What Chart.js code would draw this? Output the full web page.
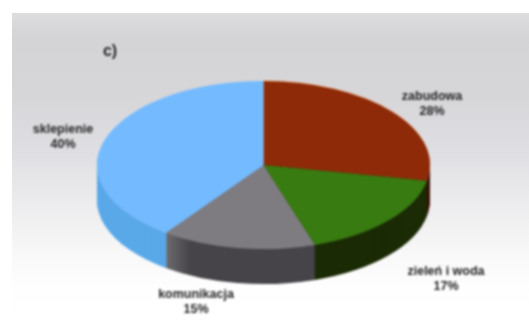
<!DOCTYPE html>
<html>
<head>
<meta charset="utf-8">
<script src="https://cdn.jsdelivr.net/npm/chart.js@4"></script>
<style>
  html, body { margin: 0; padding: 0; background: #fff; overflow: hidden; }
  #wrap { position: relative; width: 529px; height: 320px; }
  /* grey backdrop of the slide, starts a bit inside the window */
  #panel {
    position: absolute; left: 12px; top: 13px; right: 0; bottom: 0;
    background: linear-gradient(#dddddf 0px, #d4d4d7 25px, #d6d6d9 80px, #dfdfe3 140px, #ececee 190px, #f8f8f8 240px, #fefefe 275px, #ffffff 307px);
    filter: blur(0.6px);
  }
  canvas { position: absolute; left: 0; top: 0; filter: blur(0.8px); }
</style>
</head>
<body>
<div id="wrap">
  <div id="panel"></div>
  <canvas id="pie" width="529" height="320"></canvas>
</div>
<script>
const categories = ['zabudowa', 'zieleń i woda', 'komunikacja', 'sklepienie'];
const shares = [28, 17, 15, 40];
const topColors = ['#8e2a08', '#387b10', '#7e7c80', '#74bafe'];
const sideColors = ['#3a1204', '#1b2b05', '#464448', '#5aa8e8'];
const panelLabel = 'c)';

// where the tilted pie ends up on the page
const pieX = 263.5, pieY = 165, radiusX = 166.5, radiusY = 84, depth = 35;
const labelSpots = [[432, 97], [446, 272], [196, 295], [63, 130]];

function tilt(ctx, arc, drop) {
  ctx.translate(pieX, pieY + drop);
  ctx.scale(radiusX / arc.outerRadius, radiusY / arc.outerRadius);
  ctx.translate(-arc.x, -arc.y);
}

function drawLayer(ctx, arc, color, drop) {
  const layer = Object.create(arc);
  layer.options = Object.assign({}, arc.options, { backgroundColor: color, borderWidth: 0 });
  ctx.save();
  tilt(ctx, arc, drop);
  layer.draw(ctx);
  ctx.restore();
}

// grey wall catches some light on its left end
function greyWall(ctx, arc) {
  const toChart = (px) => arc.x + (px - pieX) * arc.outerRadius / radiusX;
  const g = ctx.createLinearGradient(toChart(166), 0, toChart(190), 0);
  g.addColorStop(0, '#6c6b6e');
  g.addColorStop(1, sideColors[2]);
  return g;
}

// Chart.js only knows flat pies, so squash it and stack darker copies below
const tiltedPie = {
  id: 'tiltedPie',
  beforeDatasetsDraw(chart) {
    const ctx = chart.ctx;
    const arcs = chart.getDatasetMeta(0).data;
    for (let d = depth; d >= 1; d--) {
      arcs.forEach((arc, i) => {
        drawLayer(ctx, arc, i === 2 ? greyWall(ctx, arc) : sideColors[i], d);
      });
    }
    // pale rim along the top of the red slice
    drawLayer(ctx, arcs[0], '#f0c4a4', -1);
    ctx.save();
    tilt(ctx, arcs[0], 0);
  },
  afterDatasetsDraw(chart) {
    const ctx = chart.ctx;
    ctx.restore();

    ctx.fillStyle = '#262626';
    ctx.textAlign = 'center';
    ctx.textBaseline = 'middle';
    ctx.font = 'bold 12.5px "Liberation Sans", Arial, sans-serif';
    categories.forEach((name, i) => {
      const [x, y] = labelSpots[i];
      ctx.fillText(name, x, y);
      ctx.fillText(shares[i] + '%', x, y + 15);
    });
    ctx.font = 'bold 16px "Liberation Sans", Arial, sans-serif';
    ctx.fillText(panelLabel, 110, 52);
  }
};

new Chart(document.getElementById('pie').getContext('2d'), {
  type: 'pie',
  data: {
    labels: categories,
    datasets: [{
      data: shares,
      backgroundColor: topColors,
      borderWidth: 0,
      clip: false
    }]
  },
  options: {
    responsive: false,
    animation: false,
    events: [],
    plugins: { legend: { display: false }, tooltip: { enabled: false } }
  },
  plugins: [tiltedPie]
});
</script>
</body>
</html>
